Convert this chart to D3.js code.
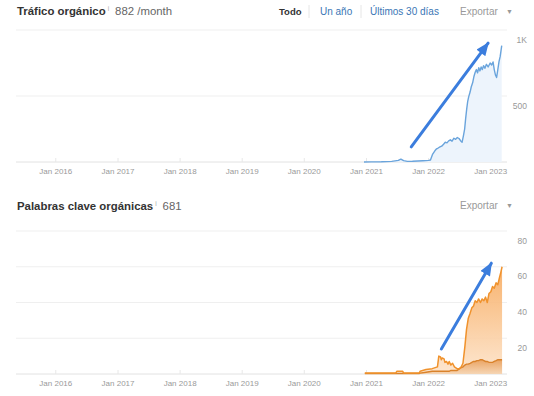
<!DOCTYPE html>
<html>
<head>
<meta charset="utf-8">
<script src="https://cdn.jsdelivr.net/npm/d3@7"></script>
<style>
  html, body { margin: 0; padding: 0; background: #fff; }
  svg { display: block; font-family: "Liberation Sans", Arial, sans-serif; }
</style>
</head>
<body>
<svg id="chart" width="534" height="396"></svg>
<script>
// Year ticks shared by both panels
const yearTicks = ["2016", "2017", "2018", "2019", "2020", "2021", "2022", "2023"];

// Organic traffic (visits / month)
const trafficDates = [
  "2020-12-20", "2021-02-01", "2021-04-01", "2021-06-01", "2021-07-10", "2021-07-25",
  "2021-08-10", "2021-09-01", "2021-10-01", "2021-11-01", "2021-12-01", "2022-01-05",
  "2022-01-15", "2022-01-28", "2022-02-10", "2022-02-20", "2022-03-01", "2022-03-12",
  "2022-03-22", "2022-04-02", "2022-04-12", "2022-04-22", "2022-05-02", "2022-05-12",
  "2022-05-22", "2022-06-02", "2022-06-12", "2022-06-22", "2022-07-02", "2022-07-12",
  "2022-07-20", "2022-07-28", "2022-08-04", "2022-08-10", "2022-08-16", "2022-08-22",
  "2022-08-28", "2022-09-05", "2022-09-12", "2022-09-20", "2022-09-28", "2022-10-05",
  "2022-10-12", "2022-10-19", "2022-10-26", "2022-11-02", "2022-11-09", "2022-11-16",
  "2022-11-23", "2022-12-01", "2022-12-10", "2022-12-20", "2023-01-01", "2023-01-10",
  "2023-01-18", "2023-01-25", "2023-02-01", "2023-02-08", "2023-02-15", "2023-02-22",
  "2023-03-01", "2023-03-10"
];
const trafficValues = [
  0, 1, 2, 5, 12, 22,
  10, 5, 6, 8, 10, 12,
  15, 60, 85, 100, 106, 114,
  120, 135, 150, 145, 160, 168,
  158, 180, 172, 185, 178, 160,
  150, 200, 250, 330, 400, 460,
  495, 530, 570, 600, 650, 680,
  700, 675, 715, 690, 720, 700,
  730, 710, 740, 720, 750, 735,
  758, 700, 660, 640, 700, 760,
  800, 882
];

// Organic keywords: total and lower band
const kwDates = [
  "2020-12-25", "2021-06-25", "2021-07-01", "2021-08-05", "2021-08-10", "2021-11-10",
  "2021-11-15", "2021-12-20", "2022-01-25", "2022-02-25", "2022-03-05", "2022-03-15",
  "2022-03-20", "2022-03-25", "2022-04-05", "2022-04-10", "2022-04-20", "2022-04-28",
  "2022-05-05", "2022-05-15", "2022-05-25", "2022-06-05", "2022-06-20", "2022-07-05",
  "2022-07-15", "2022-07-25", "2022-08-05", "2022-08-15", "2022-08-25", "2022-09-05",
  "2022-09-15", "2022-09-25", "2022-10-05", "2022-10-15", "2022-10-25", "2022-11-05",
  "2022-11-15", "2022-11-25", "2022-12-05", "2022-12-15", "2022-12-25", "2023-01-05",
  "2023-01-15", "2023-01-25", "2023-02-05", "2023-02-15", "2023-02-25", "2023-03-05",
  "2023-03-12"
];
const kwTotal = [
  0.5, 0.5, 1.5, 1.5, 0.5, 0.5,
  1.5, 2.5, 3, 4, 10, 9.5,
  8, 9, 8.5, 6.5, 7, 5.5,
  7, 5, 6, 4, 3, 3,
  4, 6, 15, 25, 31, 34,
  37, 38, 41, 40, 42, 40,
  42, 41, 43, 40, 45, 46,
  49, 48, 51, 50, 54, 57,
  60
];
const kwLower = [
  0.3, 0.3, 0.3, 0.3, 0.3, 0.3,
  0.5, 1, 1.5, 1.5, 1.5, 1.5,
  1.5, 1.5, 1.5, 1.5, 1.5, 1.5,
  1.5, 2, 2, 2, 2, 3,
  3.5, 4, 5, 5.5, 5.5, 6,
  6.5, 7, 7, 7.5, 7.5, 8,
  8, 7.5, 7, 7, 6.5, 6.5,
  6.5, 7, 7.5, 8, 8, 8,
  8
];

// Hand-drawn arrows: [startDate, startValue, endDate, endValue]
const trafficArrow = ["2021-09-24", 115, "2022-12-20", 900];
const kwArrow = ["2022-03-20", 14, "2023-01-08", 62];

const parse = d3.timeParse("%Y-%m-%d");
const svg = d3.select("#chart");

const x = d3.scaleTime()
  .domain([new Date(2015, 4, 15), new Date(2023, 3, 10)])
  .range([16, 507]);

const defs = svg.append("defs");
defs.append("marker")
  .attr("id", "arrowhead")
  .attr("markerUnits", "userSpaceOnUse")
  .attr("viewBox", "0 0 12 10")
  .attr("refX", 11)
  .attr("refY", 5)
  .attr("markerWidth", 14)
  .attr("markerHeight", 11)
  .attr("orient", "auto")
  .append("path")
  .attr("d", "M0,0 L12,5 L0,10 Z")
  .attr("fill", "#3b7ddd");

const g1 = defs.append("linearGradient").attr("id", "kwFill").attr("x1", 0).attr("y1", 0).attr("x2", 0).attr("y2", 1);
g1.append("stop").attr("offset", "0%").attr("stop-color", "#f7a95c");
g1.append("stop").attr("offset", "100%").attr("stop-color", "#fde4cb");
const g2 = defs.append("linearGradient").attr("id", "kwFill2").attr("x1", 0).attr("y1", 0).attr("x2", 0).attr("y2", 1);
g2.append("stop").attr("offset", "0%").attr("stop-color", "#eaa463");
g2.append("stop").attr("offset", "100%").attr("stop-color", "#f6d6b5");

function drawFrame(y, ticks, fmt, labelDy) {
  // gridlines + right labels
  svg.append("g").selectAll("line")
    .data(ticks.filter(t => t > 0))
    .join("line")
    .attr("x1", 16).attr("x2", 507)
    .attr("y1", d => y(d)).attr("y2", d => y(d))
    .attr("stroke", "#efefef");
  svg.append("g").selectAll("text")
    .data(ticks.filter(t => t > 0))
    .join("text")
    .attr("x", 527)
    .attr("y", d => y(d) + labelDy)
    .attr("text-anchor", "end")
    .attr("font-size", 8.5)
    .attr("fill", "#999")
    .text(fmt);

  // baseline and year ticks
  const axis = svg.append("g")
    .attr("transform", `translate(0,${y(0)})`)
    .call(d3.axisBottom(x)
      .tickValues(yearTicks.map(t => new Date(+t, 0, 1)))
      .tickSize(-4)
      .tickPadding(6)
      .tickFormat(d3.timeFormat("Jan %Y")));
  axis.select(".domain").attr("stroke", "#e2e2e2").attr("d", "M16,0H507");
  axis.selectAll(".tick line").attr("stroke", "#e8e8e8");
  axis.selectAll(".tick text")
    .attr("fill", "#9a9a9a")
    .attr("font-size", 8)
    .attr("font-family", "Liberation Sans, Arial, sans-serif");
}

function drawArrow(y, a) {
  svg.append("line")
    .attr("x1", x(parse(a[0]))).attr("y1", y(a[1]))
    .attr("x2", x(parse(a[2]))).attr("y2", y(a[3]))
    .attr("stroke", "#3b7ddd")
    .attr("stroke-width", 3)
    .attr("stroke-linecap", "round")
    .attr("marker-end", "url(#arrowhead)");
}

// ---------- Panel 1: traffic ----------
const y1 = d3.scaleLinear().domain([0, 1000]).range([162, 30]);
drawFrame(y1, [0, 500, 1000], d => d === 1000 ? "1K" : d, 13);

const traffic = trafficDates.map((d, i) => ({ date: parse(d), value: trafficValues[i] }));
svg.append("path")
  .datum(traffic)
  .attr("fill", "#edf4fc")
  .attr("d", d3.area().x(d => x(d.date)).y0(y1(0)).y1(d => y1(d.value)));
svg.append("path")
  .datum(traffic)
  .attr("fill", "none")
  .attr("stroke", "#6aa4dc")
  .attr("stroke-width", 1.4)
  .attr("stroke-linejoin", "round")
  .attr("d", d3.line().x(d => x(d.date)).y(d => y1(d.value)));
drawArrow(y1, trafficArrow);

// ---------- Panel 2: keywords ----------
const y2 = d3.scaleLinear().domain([0, 80]).range([374, 231]);
drawFrame(y2, [0, 20, 40, 60, 80], d => d, 12.5);

const kw = kwDates.map((d, i) => ({ date: parse(d), total: kwTotal[i], lower: kwLower[i] }));
svg.append("path")
  .datum(kw)
  .attr("fill", "url(#kwFill)")
  .attr("opacity", 0.9)
  .attr("d", d3.area().x(d => x(d.date)).y0(y2(0)).y1(d => y2(d.total)));
svg.append("path")
  .datum(kw)
  .attr("fill", "url(#kwFill2)")
  .attr("d", d3.area().x(d => x(d.date)).y0(y2(0)).y1(d => y2(d.lower)));
svg.append("path")
  .datum(kw)
  .attr("fill", "none")
  .attr("stroke", "#d9822b")
  .attr("stroke-width", 1.4)
  .attr("d", d3.line().x(d => x(d.date)).y(d => y2(d.lower)));
svg.append("path")
  .datum(kw)
  .attr("fill", "none")
  .attr("stroke", "#f0922c")
  .attr("stroke-width", 1.5)
  .attr("stroke-linejoin", "round")
  .attr("d", d3.line().x(d => x(d.date)).y(d => y2(d.total)));
drawArrow(y2, kwArrow);

// ---------- Headers ----------
function title(xPos, yPos, label, value) {
  const t = svg.append("text").attr("x", xPos).attr("y", yPos).attr("font-size", 11.4);
  t.append("tspan").attr("font-weight", "bold").attr("fill", "#333").text(label);
  t.append("tspan").attr("font-size", 6.5).attr("fill", "#aaa").attr("dx", 2).attr("dy", -4).text("i");
  t.append("tspan").attr("fill", "#666").attr("dx", 6).attr("dy", 4).text(value);
}
title(17, 15, "Tráfico orgánico", "882 /month");
title(17, 210, "Palabras clave orgánicas", "681");

const tabs = [
  { label: "Todo", x: 279, color: "#333", bold: true },
  { label: "Un año", x: 320, color: "#3a76b5" },
  { label: "Últimos 30 días", x: 370, color: "#3a76b5" }
];
svg.append("g").selectAll("text")
  .data(tabs)
  .join("text")
  .attr("x", d => d.x)
  .attr("y", 15)
  .attr("font-size", d => d.bold ? 9.5 : 10)
  .attr("font-weight", d => d.bold ? "bold" : "normal")
  .attr("fill", d => d.color)
  .text(d => d.label);
svg.append("g").selectAll("line")
  .data([309, 361])
  .join("line")
  .attr("x1", d => d).attr("x2", d => d)
  .attr("y1", 5).attr("y2", 18)
  .attr("stroke", "#e6e6e6");

[15, 209].forEach(yy => {
  svg.append("text").attr("x", 460).attr("y", yy).attr("font-size", 10).attr("fill", "#999").text("Exportar");
  svg.append("text").attr("x", 506).attr("y", yy - 1).attr("font-size", 7).attr("fill", "#999").text("▼");
});
</script>
</body>
</html>
